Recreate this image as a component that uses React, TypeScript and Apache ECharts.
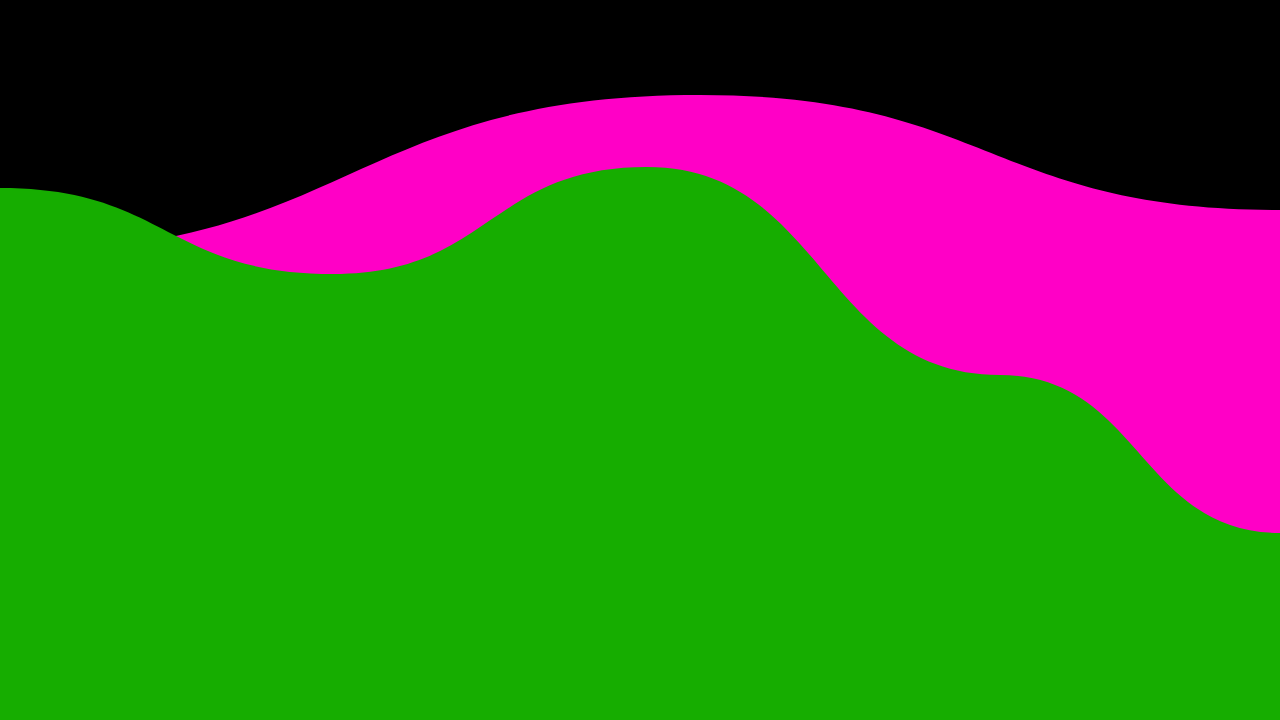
import { useEffect, useRef } from 'react';
import * as echarts from 'echarts';

// x positions (px-like units across the 1280 wide view), values = height from bottom
// the first and last entries sit outside the view so the curve ends flat at the edges
const pinkX = [-700, 0, 700, 1280, 1860];
const pinkY = [467, 467, 625, 510, 510];

const greenX = [-333, 0, 333, 647, 1000, 1280, 1560];
const greenY = [532, 532, 446, 553, 345, 187, 187];

const BG = '#000000';
const PINK = '#ff00c6';
const GREEN = '#16ad00';

const toPairs = (xs: number[], ys: number[]) => xs.map((x, i) => [x, ys[i]]);

function App() {
  const divEL = useRef<HTMLDivElement>(null);

  useEffect(() => {
    const instance = echarts.init(divEL.current as any, null, { renderer: 'svg' });

    const option: echarts.EChartsOption = {
      animation: false,
      backgroundColor: BG,
      grid: { left: 0, right: 0, top: 0, bottom: 0, containLabel: false },
      xAxis: { type: 'value', min: 0, max: 1280, show: false },
      yAxis: { type: 'value', min: 0, max: 720, show: false },
      series: [
        {
          name: 'pink',
          type: 'line',
          data: toPairs(pinkX, pinkY),
          smooth: 0.5,
          smoothMonotone: 'x',
          symbol: 'none',
          lineStyle: { width: 0 },
          areaStyle: { color: PINK, opacity: 1 },
          silent: true,
        },
        {
          name: 'green',
          type: 'line',
          data: toPairs(greenX, greenY),
          smooth: 0.5,
          smoothMonotone: 'x',
          symbol: 'none',
          lineStyle: { width: 0 },
          areaStyle: { color: GREEN, opacity: 1 },
          silent: true,
        },
      ],
    };
    instance.setOption(option);

    return () => {
      instance.dispose();
    };
  }, []);

  return (
    <div
      ref={divEL}
      style={{ position: 'fixed', left: 0, top: 0, width: '1280px', height: '720px' }}
    ></div>
  );
}

export default App;
